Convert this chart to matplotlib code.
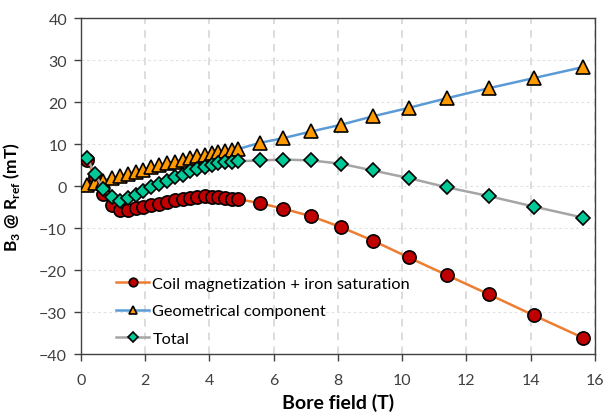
import matplotlib
matplotlib.use('Agg')
import matplotlib.pyplot as plt

# ---- data ----
bore_field = [0.18, 0.44, 0.69, 0.96, 1.21, 1.46, 1.71, 1.93, 2.17, 2.43, 2.68,
              2.93, 3.17, 3.40, 3.61, 3.86, 4.07, 4.27, 4.49, 4.69, 4.89,
              5.58, 6.30, 7.17, 8.10, 9.09, 10.20, 11.39, 12.70, 14.10, 15.62]

coil = [6.3, 2.1, -1.9, -4.5, -5.6, -5.8, -5.3, -4.9, -4.6, -4.2, -3.8,
        -3.4, -3.2, -2.9, -2.6, -2.4, -2.5, -2.6, -2.8, -3.0, -3.1,
        -4.1, -5.4, -7.2, -9.8, -13.0, -17.0, -21.2, -25.8, -30.8, -36.1]

geom = [0.3, 0.7, 1.3, 1.9, 2.4, 2.9, 3.4, 3.9, 4.5, 4.9, 5.4,
        5.8, 6.3, 6.7, 7.1, 7.5, 7.8, 8.1, 8.3, 8.6, 8.8,
        10.3, 11.4, 13.0, 14.6, 16.6, 18.6, 20.9, 23.3, 25.7, 28.3]

total = [6.7, 2.9, -0.7, -2.6, -3.6, -2.9, -2.1, -1.1, -0.3, 0.5, 1.3,
         2.1, 2.7, 3.5, 4.1, 4.6, 5.0, 5.4, 5.7, 5.8, 5.9,
         6.1, 6.3, 6.1, 5.3, 3.7, 1.9, -0.3, -2.4, -4.9, -7.5]

x_ticks = [0, 2, 4, 6, 8, 10, 12, 14, 16]
y_ticks = [-40, -30, -20, -10, 0, 10, 20, 30, 40]

plt.rcParams['font.family'] = ['Lato', 'DejaVu Sans']
plt.rcParams['mathtext.fontset'] = 'custom'
plt.rcParams['mathtext.rm'] = 'Lato'
plt.rcParams['mathtext.bf'] = 'Lato:bold'

fig = plt.figure(figsize=(6.07, 4.14), dpi=100)
ax = fig.add_axes([0.1334, 0.1425, 0.8466, 0.8115])

ax.plot(bore_field, coil, color='#ED7D31', lw=1.8, marker='o', ms=9.5,
        mfc='#C00000', mec='black', mew=1.2, label='Coil magnetization + iron saturation', zorder=3)
ax.plot(bore_field, geom, color='#5B9BD5', lw=1.8, marker='^', ms=9.5,
        mfc='#FF9900', mec='black', mew=1.2, label='Geometrical component', zorder=3)
ax.plot(bore_field, total, color='#A5A5A5', lw=1.8, marker='D', ms=7.5,
        mfc='#00C896', mec='black', mew=1.2, label='Total', zorder=4)

ax.set_xlim(0, 16)
ax.set_ylim(-40, 40)
ax.set_xticks(x_ticks)
ax.set_yticks(y_ticks)
ax.tick_params(labelsize=11.5, colors='#404040', length=5, width=1)
ax.tick_params(axis='x', pad=9)
ax.tick_params(axis='y', pad=5)
for s in ax.spines.values():
    s.set_color('#404040')
    s.set_linewidth(1)

ax.grid(axis='x', color='#D3D3D3', ls=(0, (5, 4)), lw=1.1)
ax.grid(axis='y', color='#E2E2E2', ls=(0, (2.5, 2.5)), lw=0.8)
ax.set_axisbelow(True)

ax.set_xlabel('Bore field (T)', fontsize=14, fontweight='bold', labelpad=4)
ax.set_ylabel(r'B$_\mathbf{3}$ @ R$_\mathbf{ref}$ (mT)', fontsize=12.5, fontweight='bold', labelpad=4)
ax.yaxis.set_label_coords(-0.115, 0.47)

ax.legend(loc='lower left', bbox_to_anchor=(0.04, -0.02), frameon=False, fontsize=11.8,
          markerscale=0.65, handlelength=2.0, handletextpad=0.2, labelspacing=0.8)

fig.savefig('out.png', dpi=100)
